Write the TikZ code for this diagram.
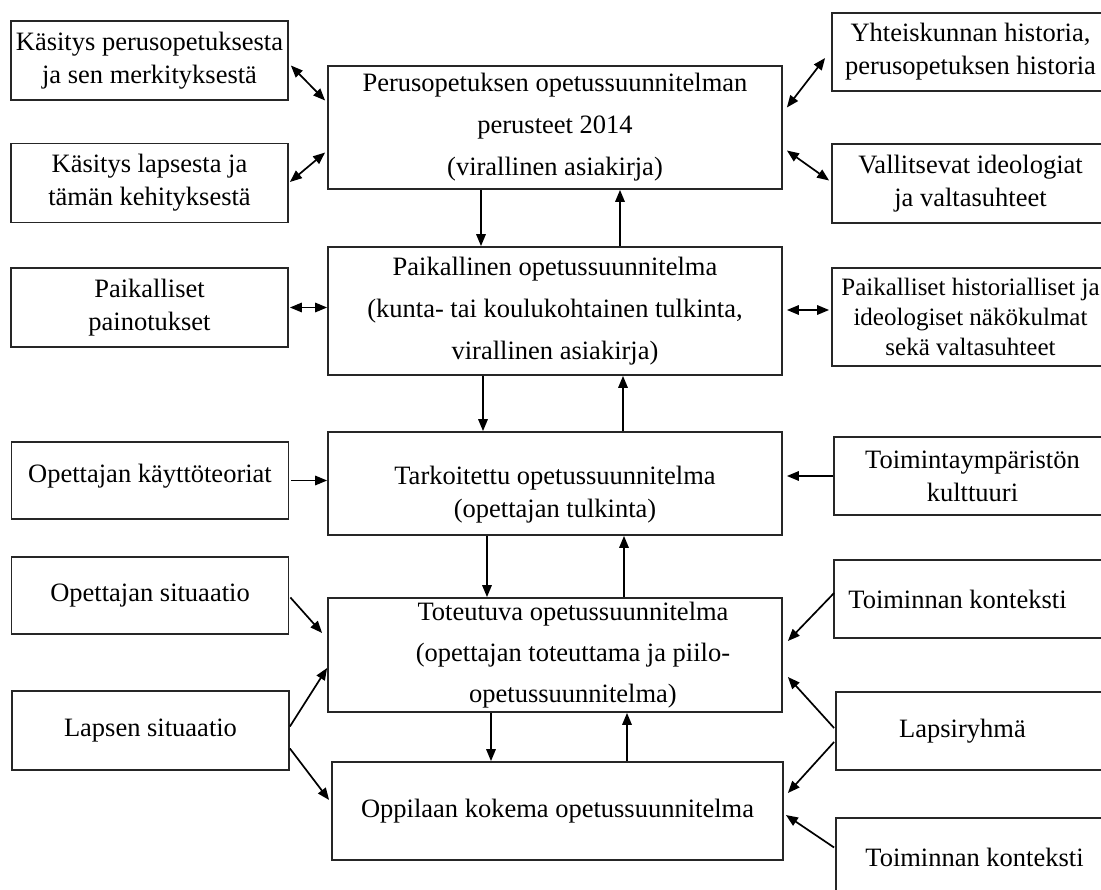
\documentclass[tikz,border=0pt]{standalone}
\usepackage{fontspec}
\setmainfont{Liberation Serif}
\usepackage{tikz}
\usetikzlibrary{arrows.meta,calc}

\begin{document}
\begin{tikzpicture}[x=1pt, y=-1pt,
  side/.style={draw=black!85, line width=1.8pt, minimum width=277pt,
    minimum height=79pt, align=center, inner sep=0pt,
    font=\fontsize{26.5}{33}\selectfont},
  core/.style={side, minimum width=454pt},
  arr/.style={-{Triangle[length=12pt,width=9.5pt]}, line width=1.7pt},
  biarr/.style={{Triangle[length=12pt,width=9.5pt]}-{Triangle[length=12pt,width=9.5pt]}, line width=1.7pt}
]
  \useasboundingbox (0,0) rectangle (1101,890);

  \node[core, minimum height=123pt] (pops) at (555,127.5) {%
    Perusopetuksen opetussuunnitelman\\[9pt]
    perusteet 2014\\[9pt]
    (virallinen asiakirja)};
  \node[core, minimum height=128pt] (pai) at (555,311) {%
    Paikallinen opetussuunnitelma\\[9pt]
    (kunta- tai koulukohtainen tulkinta,\\[9pt]
    virallinen asiakirja)};
  \node[core, minimum height=103pt] (tar) at (555,483.5) {%
    \rule{0pt}{40pt}Tarkoitettu opetussuunnitelma\\
    (opettajan tulkinta)};
  \node[core, minimum height=114pt] (tot) at (555,655) {%
    \hspace*{36pt}Toteutuva opetussuunnitelma\\[8pt]
    \hspace*{36pt}(opettajan toteuttama ja piilo-\\[8pt]
    \hspace*{36pt}opetussuunnitelma)};
  \node[core, minimum width=451pt, minimum height=98pt] (oppi) at (557.5,811) {%
    Oppilaan kokema opetussuunnitelma};

  \node[side] (kper) at (149.5,60.5) {Käsitys perusopetuksesta\\ ja sen merkityksestä};
  \node[side] (klap) at (149.5,183) {Käsitys lapsesta ja\\ tämän kehityksestä};
  \node[side] (ppain) at (149.5,307.5) {Paikalliset\\ painotukset};
  \node[side, minimum height=77pt] (okt) at (150,480.5) {Opettajan käyttöteoriat\rule[-14pt]{0pt}{14pt}};
  \node[side, minimum height=77pt] (osit) at (150,595.5) {Opettajan situaatio};
  \node[side] (lsit) at (150.5,730.5) {Lapsen situaatio};

  \node[side, minimum height=78pt] (yht) at (970.5,52) {Yhteiskunnan historia,\\ perusopetuksen historia};
  \node[side] (vall) at (970.5,183.5) {Vallitsevat ideologiat\\ ja valtasuhteet};
  \node[side, minimum height=98pt, font=\fontsize{25}{30}\selectfont] (phist) at (970.5,317) {%
    Paikalliset historialliset ja\\ ideologiset näkökulmat\\ sekä valtasuhteet};
  \node[side, minimum height=78pt] (tymp) at (972.5,476) {Toimintaympäristön\\ kulttuuri};
  \node[side, minimum height=78pt] (tkon) at (972.5,599) {Toiminnan konteksti\hspace*{30pt}};
  \node[side, minimum height=78pt] (lryh) at (974.5,731) {Lapsiryhmä\hspace*{24pt}};
  \node[side] (tkon2) at (974.5,857.5) {Toiminnan konteksti};

  \draw[biarr] ($(kper.east)+(2,5)$) -- ($(pops.west)+(-2,-27)$);
  \draw[biarr] ($(klap.east)+(1,-1)$) -- ($(pops.west)+(-2,25)$);
  \draw[biarr] ($(pops.east)+(4,-20)$) -- ($(yht.west)+(-6,6)$);
  \draw[biarr] ($(pops.east)+(4,23)$) -- ($(vall.west)+(-2,-3)$);
  \draw[arr] ($(pops.south)+(-74,0)$) -- ($(pai.north)+(-74,0)$);
  \draw[arr] ($(pai.north)+(65,0)$) -- ($(pops.south)+(65,0)$);

  \draw[biarr] ($(ppain.east)+(1,0)$) -- (ppain.east -| pai.west);
  \draw[biarr] ($(pai.east)+(4,-1)$) -- ($(pai.east -| phist.west)+(-2,-1)$);
  \draw[arr] ($(pai.south)+(-72,0)$) -- ($(tar.north)+(-72,0)$);
  \draw[arr] ($(tar.north)+(68,0)$) -- ($(pai.south)+(68,0)$);

  \draw[arr] ($(okt.east)+(2,0)$) -- (okt.east -| tar.west);
  \draw[arr] (tymp.west) -- ($(tymp.west -| tar.east)+(4,0)$);
  \draw[arr] ($(tar.south)+(-68,0)$) -- ($(tot.north)+(-68,0)$);
  \draw[arr] ($(tot.north)+(69,0)$) -- ($(tar.south)+(69,0)$);

  \draw[arr] ($(osit.east)+(1,2)$) -- ($(tot.west)+(-5,-22)$);
  \draw[arr] ($(lsit.east)+(0,-4)$) -- ($(tot.west)+(0,13)$);
  \draw[arr] ($(lsit.east)+(0,18)$) -- ($(oppi.west)+(-2,-11)$);
  \draw[arr] ($(tkon.west)+(1,-6)$) -- ($(tot.east)+(5,-14)$);
  \draw[arr] ($(lryh.west)+(-1,-3)$) -- ($(tot.east)+(5,22)$);
  \draw[arr] ($(lryh.west)+(-1,11)$) -- ($(oppi.east)+(4,-18)$);
  \draw[arr] ($(tkon2.west)+(-1,-10)$) -- ($(oppi.east)+(2,4)$);
  \draw[arr] ($(tot.south)+(-64,0)$) -- ($(oppi.north)+(-66.5,0)$);
  \draw[arr] ($(oppi.north)+(69.5,0)$) -- ($(tot.south)+(72,0)$);
\end{tikzpicture}
\end{document}
